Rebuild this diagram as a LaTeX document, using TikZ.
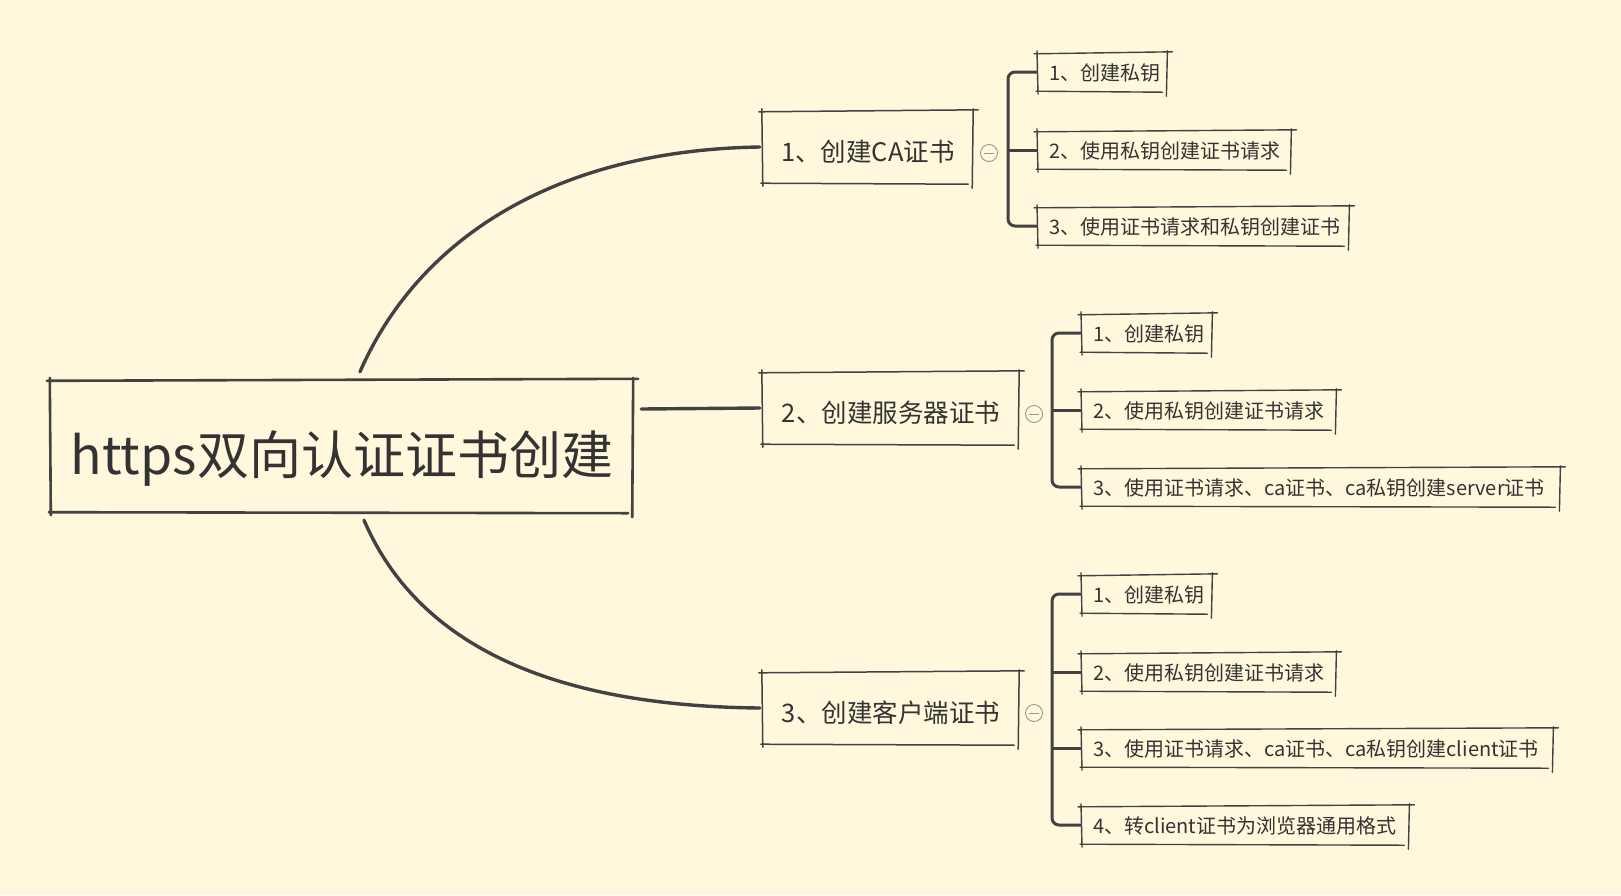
\documentclass[tikz,border=0pt]{standalone}
\usepackage{fontspec}
\setmainfont{Noto Sans CJK SC}
\definecolor{bg}{RGB}{255,248,220}
\definecolor{ink}{RGB}{66,66,66}
\definecolor{txt}{RGB}{51,51,51}
\definecolor{colg}{RGB}{150,150,150}
\newcommand\skbox[2]{%
  \draw[ink,line width=#2,line cap=round]
    ([shift={(-3,1)}]#1.north west) -- ([shift={(4,-1)}]#1.north east)
    ([shift={(0,-2)}]#1.north west) -- ([shift={(1,3)}]#1.south west)
    ([shift={(-1,-2)}]#1.north east) -- ([shift={(-2,5)}]#1.south east)
    ([shift={(-1,0)}]#1.south west) -- ([shift={(-6,1)}]#1.south east);}
\newcommand\collapse[1]{%
  \draw[colg,line width=0.9] (#1.center) circle[radius=8.5];
  \draw[colg,line width=0.9] ([xshift=-5pt]#1.center) -- ([xshift=5pt]#1.center);}
\begin{document}
\begin{tikzpicture}[x=1pt,y=-1pt,
  rootbox/.style={text=txt,font=\fontsize{52}{58}\selectfont,minimum width=584,minimum height=132,inner sep=0,text height=62pt,text depth=6pt},
  midbox/.style={text=txt,font=\fontsize{25.5}{30}\selectfont,minimum height=72,inner sep=0,text height=31pt,text depth=3pt},
  leafbox/.style={text=txt,font=\fontsize{20}{24}\selectfont,minimum height=38,inner xsep=12,inner ysep=0,align=left,anchor=west,text width=#1,text height=19pt,text depth=2.5pt},
  conn/.style={ink,line width=3.4,line cap=round},
  brk/.style={ink,line width=3,rounded corners=7},
  dot/.style={circle,inner sep=0,minimum size=17}]
\fill[bg] (0,0) rectangle (1621,895);
\useasboundingbox (0,0) rectangle (1621,895);

% root
\node[rootbox] (root) at (342,446) {https双向认证证书创建};
\skbox{root}{2.6}

% level 1
\node[midbox,minimum width=212] (ca) at (868,147) {1、创建CA证书};
\node[midbox,minimum width=258] (sv) at (891,408) {2、创建服务器证书};
\node[midbox,minimum width=258] (cl) at (891,708) {3、创建客户端证书};
\skbox{ca}{1.5}\skbox{sv}{1.5}\skbox{cl}{1.5}

% connectors from root
\draw[conn] ([shift={(18,-8)}]root.north) .. controls (420,235) and (560,150) .. ([xshift=-2pt]ca.west);
\draw[conn] ([shift={(7,-37)}]root.east) -- ([xshift=-2pt]sv.west);
\draw[conn] ([shift={(22,8)}]root.south) .. controls (420,650) and (560,706) .. ([xshift=-2pt]cl.west);

% collapse markers
\node[dot] (ccol) at (989,153) {};
\node[dot] (scol) at (1034,414) {};
\node[dot] (kcol) at (1034,713) {};
\collapse{ccol}\collapse{scol}\collapse{kcol}

% CA leaves
\node[leafbox=107] (a1) at (1037,72) {1、创建私钥};
\node[leafbox=231] (a2) at (1037,150) {2、使用私钥创建证书请求};
\node[leafbox=289] (a3) at (1037,226) {3、使用证书请求和私钥创建证书};
\foreach \n in {a1,a2,a3} {\skbox{\n}{1.4}}
\draw[brk] (a1.west) -- ++(-29,0) |- (a3.west);
\draw[brk] ([xshift=-29pt]a2.west) -- (a2.west);

% server leaves
\node[leafbox=108] (b1) at (1081,333) {1、创建私钥};
\node[leafbox=232] (b2) at (1081,410) {2、使用私钥创建证书请求};
\node[leafbox=456] (b3) at (1081,487) {3、使用证书请求、ca证书、ca私钥创建server证书};
\foreach \n in {b1,b2,b3} {\skbox{\n}{1.4}}
\draw[brk] (b1.west) -- ++(-29,0) |- (b3.west);
\draw[brk] ([xshift=-29pt]b2.west) -- (b2.west);

% client leaves
\node[leafbox=108] (c1) at (1081,594) {1、创建私钥};
\node[leafbox=232] (c2) at (1081,672) {2、使用私钥创建证书请求};
\node[leafbox=449] (c3) at (1081,748) {3、使用证书请求、ca证书、ca私钥创建client证书};
\node[leafbox=305] (c4) at (1081,825) {4、转client证书为浏览器通用格式};
\foreach \n in {c1,c2,c3,c4} {\skbox{\n}{1.4}}
\draw[brk] (c1.west) -- ++(-29,0) |- (c4.west);
\draw[brk] ([xshift=-29pt]c2.west) -- (c2.west);
\draw[brk] ([xshift=-29pt]c3.west) -- (c3.west);
\end{tikzpicture}
\end{document}
